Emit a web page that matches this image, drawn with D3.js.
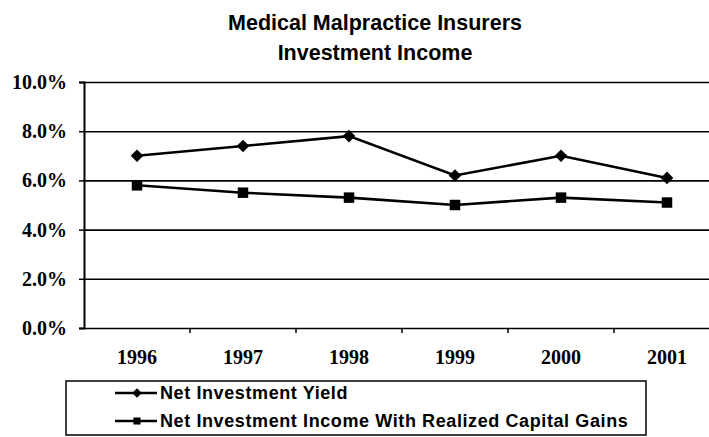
<!DOCTYPE html>
<html>
<head>
<meta charset="utf-8">
<script src="https://cdn.jsdelivr.net/npm/d3@7"></script>
<style>
  body { margin: 0; background: #fff; }
  svg { display: block; }
</style>
</head>
<body>
<div id="chart"></div>
<script>
// Données
const years = ["1996", "1997", "1998", "1999", "2000", "2001"];
const netYield = [7.0, 7.4, 7.8, 6.2, 7.0, 6.1];
const netWithGains = [5.8, 5.5, 5.3, 5.0, 5.3, 5.1];
const yTicks = [0, 2, 4, 6, 8, 10];
const titleLines = ["Medical Malpractice Insurers", "Investment Income"];
const seriesNames = ["Net Investment Yield", "Net Investment Income With Realized Capital Gains"];

const W = 709, H = 437;
const plot = { left: 84, right: 720, top: 82, bottom: 328 };

const svg = d3.select("#chart")
    .append("svg")
    .attr("width", W)
    .attr("height", H);

// Échelles
const x = d3.scaleBand()
    .domain(years)
    .range([plot.left, plot.right]);
const y = d3.scaleLinear()
    .domain([0, 10])
    .range([plot.bottom, plot.top]);
const cx = d => x(d) + x.bandwidth() / 2;

// Titre
svg.append("g")
    .selectAll("text")
    .data(titleLines)
    .enter()
    .append("text")
    .attr("x", 375)
    .attr("y", (d, i) => 30 + i * 30)
    .attr("text-anchor", "middle")
    .style("font-family", "'Liberation Sans', Arial, sans-serif")
    .style("font-weight", "bold")
    .style("font-size", "21.5px")
    .text(d => d);

// Lignes de grille
svg.append("g")
    .attr("transform", `translate(${plot.left},0)`)
    .call(d3.axisLeft(y).tickValues(yTicks).tickSize(-(W - plot.left)).tickFormat(""))
    .call(g => g.select(".domain").remove())
    .call(g => g.selectAll("line").attr("stroke", "#000").attr("stroke-width", 1.6));

// Axe Y
svg.append("g")
    .attr("transform", `translate(${plot.left},0)`)
    .call(d3.axisLeft(y).tickValues(yTicks).tickSize(5).tickPadding(12)
        .tickFormat(d => d.toFixed(1) + "%"))
    .call(g => g.select(".domain").attr("stroke", "#000").attr("stroke-width", 2))
    .call(g => g.selectAll("line").attr("stroke", "#000").attr("stroke-width", 1.5))
    .call(g => g.selectAll("text")
        .style("font-family", "'Liberation Serif', 'Times New Roman', serif")
        .style("font-weight", "bold")
        .style("font-size", "20px")
        .attr("fill", "#000"));

// Axe X : graduations entre les catégories
svg.append("g")
    .selectAll("line")
    .data(years)
    .enter()
    .append("line")
    .attr("x1", d => x(d) + x.bandwidth())
    .attr("x2", d => x(d) + x.bandwidth())
    .attr("y1", plot.bottom)
    .attr("y2", plot.bottom + 5)
    .attr("stroke", "#000")
    .attr("stroke-width", 1.5);

svg.append("g")
    .attr("transform", `translate(0,${plot.bottom})`)
    .call(d3.axisBottom(x).tickSize(0).tickPadding(22))
    .call(g => g.select(".domain").remove())
    .call(g => g.selectAll("text")
        .style("font-family", "'Liberation Serif', 'Times New Roman', serif")
        .style("font-weight", "bold")
        .style("font-size", "20px")
        .attr("fill", "#000"));

// Séries
const line = d3.line()
    .x(d => cx(d.year))
    .y(d => y(d.value));

// losange = carré tourné de 45°
const series = [
    { name: seriesNames[0], values: netYield, rot: 45, size: 80, legendSize: 45 },
    { name: seriesNames[1], values: netWithGains, rot: 0, size: 110, legendSize: 50 }
];

series.forEach(s => {
    const pts = years.map((yr, i) => ({ year: yr, value: s.values[i] }));
    svg.append("path")
        .datum(pts)
        .attr("fill", "none")
        .attr("stroke", "#000")
        .attr("stroke-width", 2.6)
        .attr("d", line);
    svg.append("g")
        .selectAll("path")
        .data(pts)
        .enter()
        .append("path")
        .attr("transform", d => `translate(${cx(d.year)},${y(d.value)}) rotate(${s.rot})`)
        .attr("d", d3.symbol().type(d3.symbolSquare).size(s.size))
        .attr("fill", "#000");
});

// Légende
const legend = svg.append("g");
legend.append("rect")
    .attr("x", 66)
    .attr("y", 381)
    .attr("width", 580)
    .attr("height", 54)
    .attr("fill", "#fff")
    .attr("stroke", "#000")
    .attr("stroke-width", 1.5);

const items = legend.selectAll(".item")
    .data(series)
    .enter()
    .append("g")
    .attr("class", "item")
    .attr("transform", (d, i) => `translate(0,${393 + i * 28})`);

items.append("line")
    .attr("x1", 115)
    .attr("x2", 157)
    .attr("stroke", "#000")
    .attr("stroke-width", 2.6);

items.append("path")
    .attr("transform", d => `translate(137,0) rotate(${d.rot})`)
    .attr("d", d => d3.symbol().type(d3.symbolSquare).size(d.legendSize)())
    .attr("fill", "#000");

items.append("text")
    .attr("x", 160)
    .attr("dy", "0.36em")
    .style("font-family", "'Liberation Sans', Arial, sans-serif")
    .style("font-weight", "bold")
    .style("font-size", "18px")
    .style("letter-spacing", "0.6px")
    .text(d => d.name);
</script>
</body>
</html>
